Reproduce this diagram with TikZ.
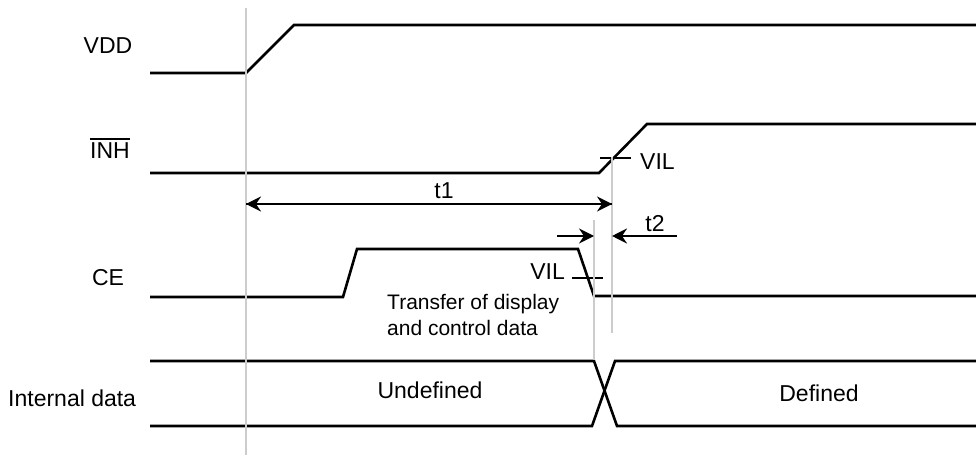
\documentclass[tikz,border=0pt]{standalone}
\usepackage{fontspec}
\setmainfont{Liberation Sans}
\usetikzlibrary{arrows.meta}

\def\unit{1pt}

\begin{document}
\begin{tikzpicture}[%
	x=\unit, y=-\unit,%
	signal/.style ={black, line width=2.6pt, line join=miter},%
	guide/.style ={black!20, line width=2.7pt},%
	timing/.style ={black, line width=2.6pt, -{Stealth[length=15pt, width=15pt, inset=5pt]}},%
	label/.style ={font=\fontsize{23}{27}\selectfont, inner sep=0pt},%
	note/.style ={font=\fontsize{21}{26}\selectfont, inner sep=0pt},%
	]
\useasboundingbox (0,0) rectangle (976,457);
%%% names
	\node [label, anchor=base] (vdd) at (108,54) {VDD};
	\node [label, anchor=base] (inh) at (110,159) {INH};
	\draw [black, line width=2.4pt] ([yshift=4pt]inh.north west) -- ([yshift=4pt]inh.north east);
	\node [label, anchor=base] (ce) at (108,285) {CE};
	\node [label, anchor=base west] (data) at (8,406) {Internal data};
%%% names
%%% waves
	\draw [signal] (150,73) -- (246,73) -- (294,25) -- (976,25);
	\draw [signal] (150,173) -- (599,173) -- (647,124) -- (976,124);
	\draw [signal] (150,297) -- (343,297) -- (357,249) -- (578,249) -- (594,296) -- (976,296);
	\draw [signal] (150,361) -- (594,361) -- (617,426) -- (976,426);
	\draw [signal] (150,426) -- (592,426) -- (615,361) -- (976,361);
	% VIL ticks
	\draw [signal] (600,158) -- (631,158);
	\draw [signal] (572,278) -- (603,278);
%%% waves
%%% guides
	\draw [guide] (246,8) coordinate (g0 top) -- (246,455) coordinate (g0 bot);
	\draw [guide] (594,220) coordinate (g1 top) -- (594,360) coordinate (g1 bot);
	\draw [guide] (612,157) coordinate (g2 top) -- (612,333) coordinate (g2 bot);
%%% guides
%%% timing
	\coordinate (t1 left) at (g0 top |- 0,204);
	\coordinate (t1 right) at (g2 top |- 0,204);
	\draw [timing] (t1 left) -- (t1 right);
	\draw [timing] (t1 right) -- (t1 left);
	\node [label, anchor=base] (t1) at (444,198) {t1};
	%
	\coordinate (t2 a) at (557,236);
	\coordinate (t2 b) at (g1 top |- t2 a);
	\coordinate (t2 c) at (g2 top |- t2 a);
	\coordinate (t2 d) at (677,236);
	\draw [timing] (t2 a) -- (t2 b);
	\draw [timing] (t2 d) -- (t2 c);
	\node [label, anchor=base] (t2) at (655,231) {t2};
%%% timing
%%% texts
	\node [label, anchor=base west] (vil inh) at (640,170) {VIL};
	\node [label, anchor=base east] (vil ce) at (565,279) {VIL};
	\node [note, anchor=base west] (transfer) at (387,309) {Transfer of display};
	\node [note, anchor=base west] (control) at (387,335) {and control data};
	\node [label, anchor=base] (undefined) at (430,398) {Undefined};
	\node [label, anchor=base] (defined) at (819,401) {Defined};
%%% texts
\end{tikzpicture}
\end{document}
